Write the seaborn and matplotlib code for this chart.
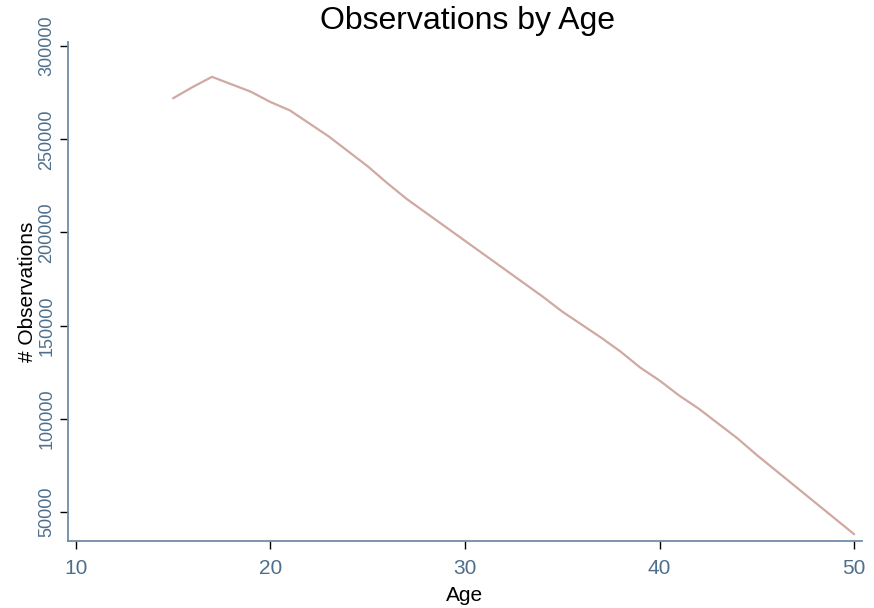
import matplotlib
matplotlib.use("Agg")
import matplotlib.pyplot as plt
import seaborn as sns
import pandas as pd

ages = list(range(15, 51))
observations = [272000, 278000, 283500, 279500, 275500, 270000, 265500, 258500,
                251500, 243500, 235500, 226500, 218000, 210500, 203000, 195500,
                188000, 180500, 173000, 165500, 157500, 150500, 143500, 136000,
                127500, 120500, 112500, 105500, 97500, 89500, 80500, 72000,
                63500, 55000, 46500, 38000]
x_ticks = [10, 20, 30, 40, 50]
y_ticks = [50000, 100000, 150000, 200000, 250000, 300000]

df = pd.DataFrame({"Age": ages, "Observations": observations})

sns.set_theme(style="white")
plt.rcParams["font.family"] = ["Liberation Sans", "DejaVu Sans"]

fig = plt.figure(figsize=(8.74, 6.08), dpi=100)
ax = fig.add_axes([68 / 874, 1 - 541 / 608, (862 - 68) / 874, (541 - 42) / 608])

sns.lineplot(data=df, x="Age", y="Observations", ax=ax, color="#cfa9a2", linewidth=1.6)

ax.set_xlim(9.6, 50.4)
ax.set_ylim(34400, 302200)
ax.set_xticks(x_ticks)
ax.set_yticks(y_ticks)
ax.set_xticklabels([str(t) for t in x_ticks])
ax.set_yticklabels([str(t) for t in y_ticks], rotation=90, va="center")

tick_color = "#4e6f8c"
spine_color = "#6f8ea6"
ax.tick_params(axis="both", direction="out", length=6, width=1, color="black",
               bottom=True, left=True)
ax.tick_params(axis="x", labelsize=15, labelcolor=tick_color, pad=7)
ax.tick_params(axis="y", labelsize=13, labelcolor=tick_color, pad=3)

for side in ["top", "right"]:
    ax.spines[side].set_visible(False)
for side in ["left", "bottom"]:
    ax.spines[side].set_color(spine_color)
    ax.spines[side].set_linewidth(1.3)

ax.set_xlabel("Age", fontsize=15, color="black", labelpad=6)
ax.set_ylabel("# Observations", fontsize=15, color="black", labelpad=1)
fig.suptitle("Observations by Age", fontsize=23, color="black",
             y=1 - 6 / 608, x=467 / 874, va="top")

fig.savefig("out.png", dpi=100)
